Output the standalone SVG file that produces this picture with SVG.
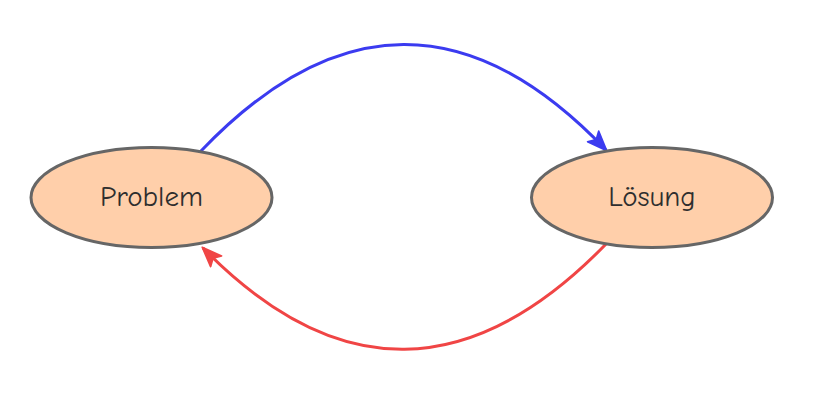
<svg xmlns="http://www.w3.org/2000/svg" width="816" height="401" viewBox="0 0 816 401">
<style>
.node ellipse{fill:#ffcfaa;stroke:#666;stroke-width:3}
.node text{font-family:"Comic Sans MS","Comic Neue","Noto Sans",sans-serif;font-size:29px;fill:#2e2e2e;text-anchor:middle;dominant-baseline:central}
.edge{fill:none;stroke-width:3}
</style>
<defs>
<marker id="ab" viewBox="0 0 20 16" refX="18" refY="8" markerWidth="22" markerHeight="17.6" markerUnits="userSpaceOnUse" orient="auto">
<path d="M1,1 L19,8 L1,15 L5,8 Z" fill="#3b3bf0" stroke="#3b3bf0" stroke-width="1.5" stroke-linejoin="round"/>
</marker>
<marker id="ar" viewBox="0 0 20 16" refX="18" refY="8" markerWidth="22" markerHeight="17.6" markerUnits="userSpaceOnUse" orient="auto">
<path d="M1,1 L19,8 L1,15 L5,8 Z" fill="#f04545" stroke="#f04545" stroke-width="1.5" stroke-linejoin="round"/>
</marker>
</defs>
<rect width="816" height="401" fill="#fff"/>
<g id="connectors">
<path class="edge" stroke="#3b3bf0" d="M200,152 Q404,-62 606,150" marker-end="url(#ab)"/>
<path class="edge" stroke="#f04545" d="M607,243 Q404,453 203,248" marker-end="url(#ar)"/>
</g>
<g id="node-problem" class="node">
<ellipse cx="151.5" cy="197.5" rx="120.5" ry="50"/>
<text x="151.5" y="196">Problem</text>
</g>
<g id="node-loesung" class="node">
<ellipse cx="652" cy="197.5" rx="120.5" ry="50"/>
<text x="652" y="196">Lösung</text>
</g>
</svg>
